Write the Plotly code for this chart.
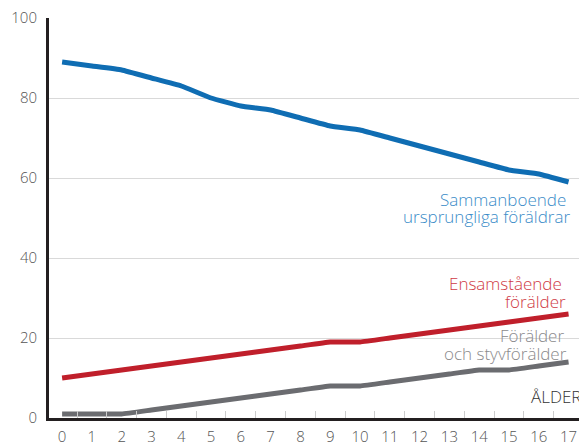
import plotly.graph_objects as go

ages = list(range(18))
age_labels = [str(a) for a in ages]
sammanboende = [89, 88, 87, 85, 83, 80, 78, 77, 75, 73, 72, 70, 68, 66, 64, 62, 61, 59]
ensamstaende = [10, 11, 12, 13, 14, 15, 16, 17, 18, 19, 19, 20, 21, 22, 23, 24, 25, 26]
styvforalder = [1, 1, 1, 2, 3, 4, 5, 6, 7, 8, 8, 9, 10, 11, 12, 12, 13, 14]
y_ticks = [0, 20, 40, 60, 80, 100]

FONT = "Open Sans"
fig = go.Figure()
for vals, col in [(sammanboende, "#0f6db3"), (ensamstaende, "#c01f2b"), (styvforalder, "#6b6c70")]:
    fig.add_trace(go.Scatter(x=ages, y=vals, mode="lines",
                             line=dict(color=col, width=5, shape="spline", smoothing=0.3),
                             hoverinfo="skip", showlegend=False, cliponaxis=False))

labels = [
    ("Sammanboende", 54.75, "#3b8cc8", 16.97),
    ("ursprungliga föräldrar", 50.5, "#3b8cc8", 17.1),
    ("Ensamstående", 33.75, "#cf3a45", 16.85),
    ("förälder", 29.25, "#cf3a45", 16.97),
    ("Förälder", 20.75, "#8a8a8c", 16.93),
    ("och styvförälder", 16.25, "#8a8a8c", 17.02),
]
for text, y, col, x in labels:
    fig.add_annotation(x=x, y=y, xref="x", yref="y", text=text, showarrow=False,
                       xanchor="right", yanchor="middle", align="right",
                       font=dict(family=FONT, size=17, color=col, weight=300))
fig.add_annotation(x=15.68, y=5.5, xref="x", yref="y", text="ÅLDER", showarrow=False,
                   xanchor="left", yanchor="middle",
                   font=dict(family=FONT, size=17, color="#333333", weight=300))

fig.update_layout(
    width=579, height=444,
    margin=dict(l=49, r=0, t=18, b=26),
    plot_bgcolor="white", paper_bgcolor="white",
    font=dict(family=FONT, size=15, color="#555555"),
    xaxis=dict(range=[-0.44, 17.35], tickvals=ages, ticktext=age_labels, automargin=False,
               showgrid=False, zeroline=False, showline=True, linecolor="#231f20", linewidth=3,
               ticks="", ticklabelstandoff=3,
               minor=dict(tick0=0.5, dtick=1, ticks="inside", ticklen=7, tickcolor="#cccccc",
                          tickwidth=1, showgrid=False),
               tickfont=dict(family=FONT, size=15, color="#555555", weight=300)),
    yaxis=dict(range=[0, 100], tickvals=y_ticks, showgrid=True, gridcolor="#d9d9d9", gridwidth=1,
               zeroline=False, showline=True, linecolor="#231f20", linewidth=3, ticks="",
               ticklabelstandoff=6, automargin=False,
               tickfont=dict(family=FONT, size=15, color="#555555", weight=300)),
)
fig.write_html("out.html", config={"displayModeBar": False, "staticPlot": True},
               post_script="document.body.style.margin='0';document.body.style.overflow='hidden';")
